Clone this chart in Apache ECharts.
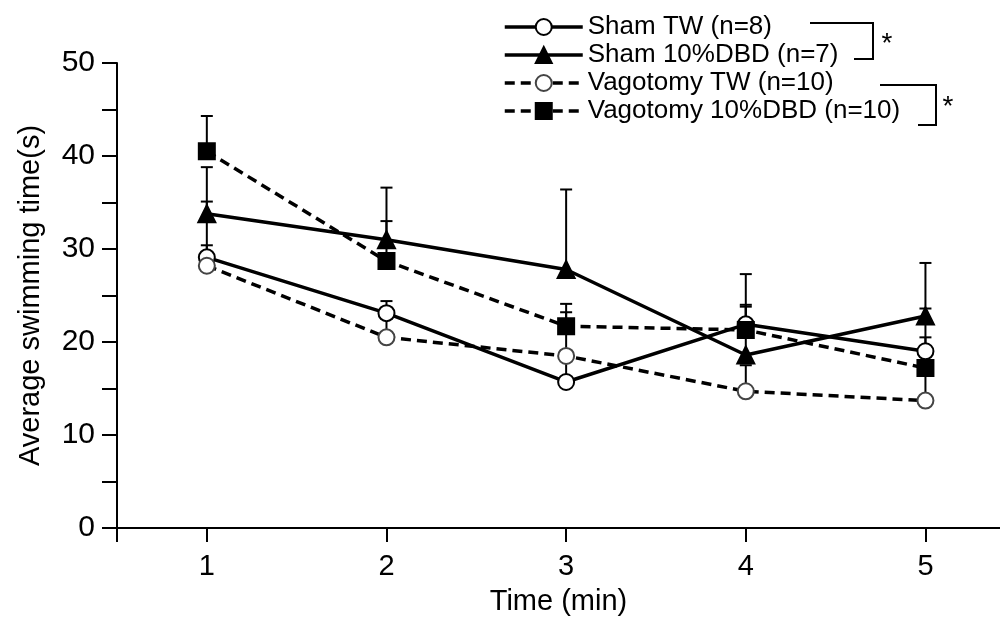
<!DOCTYPE html>
<html>
<head>
<meta charset="utf-8">
<script src="https://cdn.jsdelivr.net/npm/echarts@6/dist/echarts.min.js"></script>
<style>
  html, body { margin: 0; padding: 0; background: #fff; }
  #chart { width: 1000px; height: 622px; }
</style>
</head>
<body>
<div id="chart"></div>
<script>
// data
const timePoints = [1, 2, 3, 4, 5];
const xTickValues = [0.5, 1, 2, 3, 4, 5];
const yLabelValues = [0, 10, 20, 30, 40, 50];

const shamTW = [29.1, 23.1, 15.7, 21.9, 19.0];
const shamTWErr = [6.0, 1.3, 2.5, 2.1, 1.5];
const shamDBD = [33.8, 31.0, 27.8, 18.6, 22.8];
const shamDBDErr = [5.0, 5.6, 8.6, 5.2, 5.7];
const vagTW = [28.2, 20.5, 18.5, 14.7, 13.7];
const vagTWErr = [2.2, 2.0, 4.7, 2.8, 3.6];
const vagDBD = [40.5, 28.7, 21.7, 21.3, 17.2];
const vagDBDErr = [3.8, 4.3, 2.4, 6.0, 6.4];

const names = ['Sham TW (n=8)', 'Sham 10%DBD (n=7)', 'Vagotomy TW (n=10)', 'Vagotomy 10%DBD (n=10)'];

const FONT = 'Liberation Sans';

const chart = echarts.init(document.getElementById('chart'));

const pairs = (vals) => timePoints.map((t, i) => [t, vals[i]]);
const errPairs = (vals, errs) => timePoints.map((t, i) => [t, vals[i], errs[i]]);

// upper error bar with a cap
function errorBar(params, api) {
  const x = api.value(0);
  const y = api.value(1);
  const e = api.value(2);
  const p0 = api.coord([x, y]);
  const p1 = api.coord([x, y + e]);
  const style = { stroke: '#000', lineWidth: 2 };
  return {
    type: 'group',
    children: [
      { type: 'line', shape: { x1: p0[0], y1: p0[1], x2: p1[0], y2: p1[1] }, style },
      { type: 'line', shape: { x1: p1[0] - 6, y1: p1[1], x2: p1[0] + 6, y2: p1[1] }, style }
    ]
  };
}

function errSeries(vals, errs) {
  return {
    type: 'custom',
    renderItem: errorBar,
    data: errPairs(vals, errs),
    z: 1,
    silent: true
  };
}

function lineSeries(name, vals, symbol, size, fill, border, dashed) {
  return {
    name,
    type: 'line',
    data: pairs(vals),
    symbol,
    symbolSize: size,
    showAllSymbol: true,
    z: 3,
    lineStyle: { color: '#000', width: 3.5, type: dashed ? [10, 6] : 'solid' },
    itemStyle: { color: fill, borderColor: border, borderWidth: 2, opacity: 1 }
  };
}

chart.setOption({
  animation: false,
  backgroundColor: '#fff',
  textStyle: { fontFamily: FONT, color: '#000' },
  grid: { left: 117, right: 0, top: 63, bottom: 94 },
  legend: {
    data: names,
    orient: 'vertical',
    left: 498,
    top: 9,
    itemWidth: 78,
    itemHeight: 20,
    itemGap: 2,
    lineStyle: { width: 3.5 },
    textStyle: { fontFamily: FONT, fontSize: 26, color: '#000' }
  },
  xAxis: {
    type: 'value',
    min: 0.5,
    max: 5.415,
    name: 'Time (min)',
    nameLocation: 'middle',
    nameGap: 59,
    nameTextStyle: { fontFamily: FONT, fontSize: 29, color: '#000' },
    axisLine: { lineStyle: { color: '#000', width: 2 } },
    axisTick: { customValues: xTickValues, length: 14, lineStyle: { color: '#000', width: 2 } },
    axisLabel: { customValues: timePoints, fontSize: 29, color: '#000', margin: 24, fontFamily: FONT },
    splitLine: { show: false }
  },
  yAxis: {
    type: 'value',
    min: 0,
    max: 50,
    interval: 5,
    name: 'Average swimming time(s)',
    nameLocation: 'middle',
    nameGap: 72,
    nameTextStyle: { fontFamily: FONT, fontSize: 29, color: '#000' },
    axisLine: { show: true, lineStyle: { color: '#000', width: 2 } },
    axisTick: { show: true, length: 15, lineStyle: { color: '#000', width: 2 } },
    axisLabel: { customValues: yLabelValues, fontSize: 30, color: '#000', margin: 22, fontFamily: FONT },
    splitLine: { show: false }
  },
  graphic: [
    { type: 'polyline', shape: { points: [[810, 23], [873, 23], [873, 59], [854, 59]] }, style: { stroke: '#000', lineWidth: 2, fill: null } },
    { type: 'text', x: 887, y: 44, style: { text: '*', font: '28px "Liberation Sans"', fill: '#000', align: 'center', verticalAlign: 'middle' } },
    { type: 'polyline', shape: { points: [[880, 85], [936, 85], [936, 125], [918, 125]] }, style: { stroke: '#000', lineWidth: 2, fill: null } },
    { type: 'text', x: 948, y: 107, style: { text: '*', font: '28px "Liberation Sans"', fill: '#000', align: 'center', verticalAlign: 'middle' } }
  ],
  series: [
    errSeries(shamTW, shamTWErr),
    errSeries(shamDBD, shamDBDErr),
    errSeries(vagTW, vagTWErr),
    errSeries(vagDBD, vagDBDErr),
    lineSeries(names[0], shamTW, 'circle', 16, '#fff', '#000', false),
    lineSeries(names[1], shamDBD, 'triangle', 17, '#000', '#000', false),
    lineSeries(names[2], vagTW, 'circle', 16, '#fff', '#444', true),
    lineSeries(names[3], vagDBD, 'rect', 16, '#000', '#000', true)
  ]
});
</script>
</body>
</html>
